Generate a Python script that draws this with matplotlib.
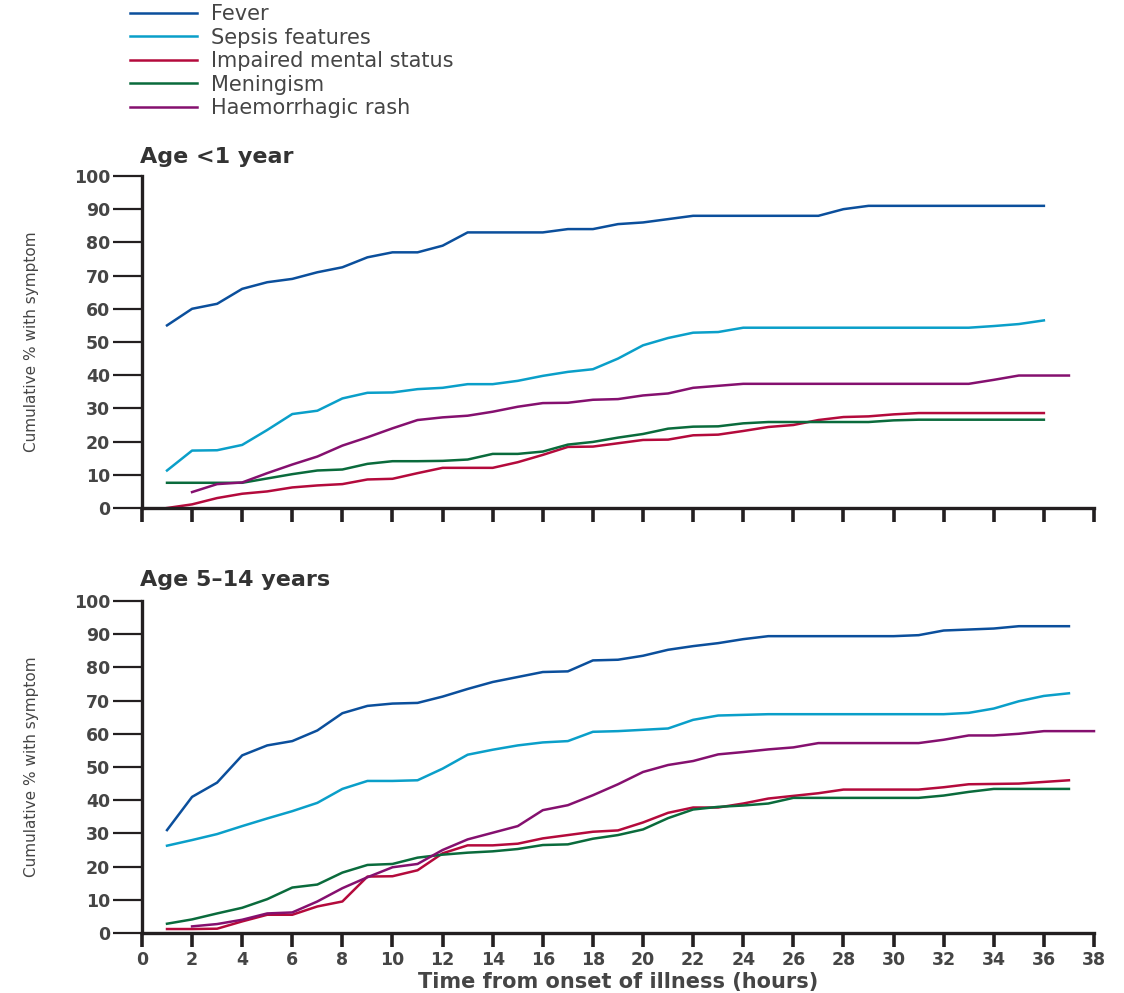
import numpy as np
import matplotlib.pyplot as plt

# hours since onset of illness
hours_infant = np.arange(1, 37)
hours_infant_rash = np.arange(2, 38)
hours_child = np.arange(1, 38)
hours_child_rash = np.arange(2, 39)

# cumulative % with symptom, age <1 year
fever_infant = [55, 60, 61.5, 66, 68, 69, 71, 72.5, 75.5, 77, 77, 79, 83, 83, 83, 83, 84, 84,
                85.5, 86, 87, 88, 88, 88, 88, 88, 88, 90, 91, 91, 91, 91, 91, 91, 91, 91]
sepsis_infant = [11.3, 17.3, 17.4, 19, 23.5, 28.3, 29.3, 33, 34.7, 34.8, 35.8, 36.2, 37.3, 37.3,
                 38.3, 39.8, 41, 41.8, 45, 49, 51.2, 52.8, 53, 54.3, 54.3, 54.3, 54.3, 54.3,
                 54.3, 54.3, 54.3, 54.3, 54.3, 54.8, 55.4, 56.5]
mental_infant = [0, 1.1, 3, 4.3, 5, 6.2, 6.8, 7.2, 8.6, 8.8, 10.5, 12.1, 12.1, 12.1, 13.8, 16,
                 18.4, 18.5, 19.5, 20.5, 20.6, 21.9, 22.1, 23.2, 24.4, 25, 26.5, 27.4, 27.6,
                 28.2, 28.6, 28.6, 28.6, 28.6, 28.6, 28.6]
mening_infant = [7.6, 7.6, 7.6, 7.6, 8.9, 10.2, 11.3, 11.6, 13.3, 14.1, 14.1, 14.2, 14.6, 16.3,
                 16.3, 17, 19.1, 19.9, 21.2, 22.3, 23.9, 24.5, 24.6, 25.5, 25.9, 25.9, 25.9,
                 25.9, 25.9, 26.4, 26.6, 26.6, 26.6, 26.6, 26.6, 26.6]
rash_infant = [4.8, 7.2, 7.7, 10.5, 13.1, 15.5, 18.8, 21.3, 24, 26.5, 27.3, 27.8, 29, 30.5,
               31.6, 31.7, 32.6, 32.8, 33.9, 34.5, 36.2, 36.8, 37.4, 37.4, 37.4, 37.4, 37.4,
               37.4, 37.4, 37.4, 37.4, 37.4, 38.6, 39.9, 39.9, 39.9]

# cumulative % with symptom, age 5-14 years
fever_child = [31, 41, 45.3, 53.5, 56.5, 57.8, 61, 66.2, 68.4, 69.1, 69.3, 71.2, 73.5, 75.6,
               77.1, 78.6, 78.8, 82.1, 82.3, 83.5, 85.3, 86.4, 87.3, 88.5, 89.4, 89.4, 89.4,
               89.4, 89.4, 89.4, 89.7, 91.1, 91.4, 91.7, 92.4, 92.4, 92.4]
sepsis_child = [26.3, 28, 29.8, 32.2, 34.5, 36.7, 39.2, 43.4, 45.8, 45.8, 46, 49.5, 53.7, 55.2,
                56.5, 57.4, 57.8, 60.6, 60.8, 61.2, 61.6, 64.2, 65.5, 65.7, 65.9, 65.9, 65.9,
                65.9, 65.9, 65.9, 65.9, 65.9, 66.3, 67.6, 69.8, 71.4, 72.2]
mental_child = [1.2, 1.2, 1.3, 3.5, 5.5, 5.5, 8, 9.5, 17, 17.1, 18.9, 24, 26.4, 26.4, 26.9, 28.5,
                29.5, 30.5, 30.9, 33.3, 36.2, 37.8, 37.8, 39, 40.5, 41.3, 42.1, 43.2, 43.2,
                43.2, 43.2, 43.9, 44.8, 44.9, 45, 45.5, 46]
mening_child = [2.8, 4.1, 5.9, 7.6, 10.2, 13.7, 14.6, 18.2, 20.5, 20.8, 22.7, 23.6, 24.2, 24.6,
                25.3, 26.5, 26.7, 28.4, 29.5, 31.2, 34.6, 37.2, 38, 38.4, 39, 40.7, 40.7, 40.7,
                40.7, 40.7, 40.7, 41.4, 42.5, 43.4, 43.4, 43.4, 43.4]
rash_child = [2, 2.7, 4, 5.9, 6.2, 9.5, 13.5, 16.8, 19.8, 20.8, 25, 28.2, 30.2, 32.2, 37, 38.5,
              41.5, 44.8, 48.5, 50.6, 51.8, 53.8, 54.5, 55.3, 55.9, 57.2, 57.2, 57.2, 57.2,
              57.2, 58.2, 59.5, 59.5, 60, 60.8, 60.8, 60.8]

labels = ["Fever", "Sepsis features", "Impaired mental status", "Meningism", "Haemorrhagic rash"]
colors = ["#0b4f9c", "#0a9fc9", "#b40a3c", "#0a6b3c", "#85106f"]

text_col = "#454545"
axis_col = "#231f20"

fig = plt.figure(figsize=(11.24, 9.93), dpi=100)
ax1 = fig.add_axes([0.1263, 0.4884, 0.847, 0.3344])
ax2 = fig.add_axes([0.1263, 0.0604, 0.847, 0.3344])

panels = [
    (ax1, [hours_infant] * 4 + [hours_infant_rash],
     [fever_infant, sepsis_infant, mental_infant, mening_infant, rash_infant]),
    (ax2, [hours_child] * 4 + [hours_child_rash],
     [fever_child, sepsis_child, mental_child, mening_child, rash_child]),
]

for ax, xs, ys in panels:
    for x, y, c, lab in zip(xs, ys, colors, labels):
        ax.plot(x, y, color=c, lw=1.8, label=lab, clip_on=False, solid_joinstyle="round")
    ax.set_xlim(0, 38)
    ax.set_ylim(0, 100)
    ax.set_xticks(np.arange(0, 39, 2))
    ax.set_yticks(np.arange(0, 101, 10))
    for s in ["top", "right"]:
        ax.spines[s].set_visible(False)
    for s in ["left", "bottom"]:
        ax.spines[s].set_linewidth(2.4)
        ax.spines[s].set_color(axis_col)
    ax.tick_params(axis="x", direction="out", length=10, width=2.6, color=axis_col,
                   labelsize=12.5, labelcolor=text_col, pad=3)
    ax.tick_params(axis="y", direction="out", length=21, width=1.6, color=axis_col,
                   labelsize=12.5, labelcolor=text_col, pad=2)
    for t in ax.get_xticklabels() + ax.get_yticklabels():
        t.set_fontweight("bold")
    ax.set_ylabel("Cumulative % with symptom", fontsize=11, color=text_col, labelpad=0)
    ax.yaxis.set_label_coords(-0.108, 0.5)

ax1.tick_params(axis="x", labelbottom=False)
fig.text(0.5497, 1 - 982 / 993, "Time from onset of illness (hours)", fontsize=15,
         fontweight="bold", color=text_col, ha="center", va="center")

fig.text(140 / 1124, 1 - 163 / 993, "Age <1 year", fontsize=16, fontweight="bold",
         color="#333333", va="baseline")
fig.text(140 / 1124, 1 - 586 / 993, "Age 5\u201314 years", fontsize=16, fontweight="bold",
         color="#333333", va="baseline")

handles, _ = ax1.get_legend_handles_labels()
fig.legend(handles, labels, loc="upper left", bbox_to_anchor=(130 / 1124, 1 - 4 / 993),
           frameon=False, fontsize=15, handlelength=3.2, handletextpad=0.7,
           labelspacing=0.17, borderpad=0, borderaxespad=0, labelcolor=text_col)

fig.savefig("out.png", dpi=100, facecolor="white")
